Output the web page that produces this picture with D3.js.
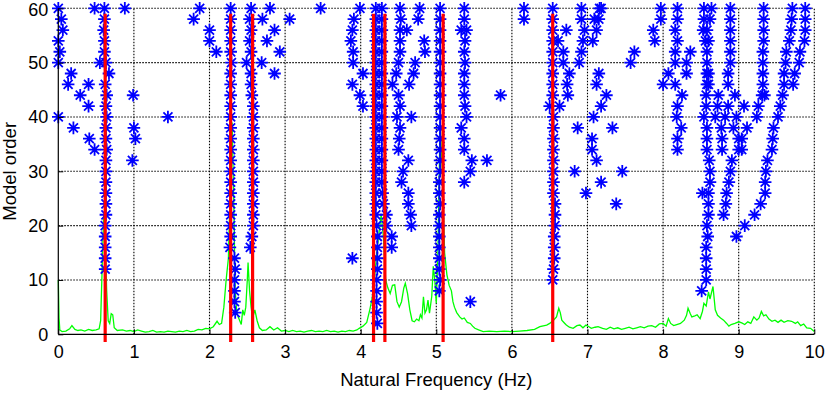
<!DOCTYPE html>
<html>
<head>
<meta charset="utf-8">
<script src="https://cdn.jsdelivr.net/npm/d3@7"></script>
<style>
  html, body { margin: 0; padding: 0; background: #fff; }
  svg text { font-family: "Liberation Sans", Arial, sans-serif; fill: #000; }
</style>
</head>
<body>
<div id="chart"></div>
<script>
// identified modes (Hz), drawn as red lines
const modeFreqs = [0.62, 2.28, 2.57, 4.17, 4.32, 5.09, 6.54];

// spectrum trace [freq, level]
const spectrum = [
  [0, 10], [0.01, 3], [0.02, 0.8], [0.05, 0.5], [0.1, 0.6], [0.15, 1.0], [0.18, 1.6], [0.22, 0.9],
  [0.26, 0.7], [0.3, 0.8], [0.35, 0.6], [0.4, 0.9], [0.45, 0.7], [0.5, 0.8], [0.54, 1.0], [0.56, 2.5],
  [0.58, 12], [0.6, 22], [0.62, 18], [0.64, 8], [0.66, 2.5], [0.68, 2.0], [0.7, 3.8], [0.72, 3.6],
  [0.74, 1.2], [0.78, 0.7], [0.85, 0.8], [0.9, 0.6], [0.95, 0.7], [1.0, 0.5], [1.05, 0.8], [1.1, 0.6],
  [1.15, 0.4], [1.2, 0.5], [1.25, 0.7], [1.3, 0.4], [1.35, 0.5], [1.4, 0.4], [1.45, 0.6], [1.5, 0.5],
  [1.55, 0.4], [1.6, 0.6], [1.65, 0.5], [1.7, 0.7], [1.75, 0.5], [1.8, 0.6], [1.85, 0.9], [1.9, 0.8],
  [1.95, 1.1], [2.0, 1.0], [2.05, 1.4], [2.1, 2.4], [2.13, 1.8], [2.16, 2.0], [2.19, 5], [2.22, 10],
  [2.25, 14], [2.28, 30], [2.3, 39], [2.32, 25], [2.34, 8], [2.36, 4], [2.38, 3.2], [2.4, 2.5],
  [2.42, 1.8], [2.44, 4.5], [2.46, 3.5], [2.48, 5], [2.5, 10], [2.51, 13.2], [2.53, 8], [2.55, 5],
  [2.57, 3], [2.6, 4.5], [2.63, 2.5], [2.66, 1.2], [2.7, 0.7], [2.75, 0.8], [2.8, 1.4], [2.85, 0.8],
  [2.9, 1.2], [2.95, 0.6], [3.0, 0.7], [3.05, 0.5], [3.1, 0.7], [3.15, 0.5], [3.2, 0.6], [3.25, 0.4],
  [3.3, 0.6], [3.35, 0.7], [3.4, 0.5], [3.45, 0.6], [3.5, 0.5], [3.55, 0.7], [3.6, 0.5], [3.65, 0.6],
  [3.7, 0.4], [3.75, 0.6], [3.8, 0.5], [3.85, 0.7], [3.9, 0.6], [3.95, 0.8], [3.98, 1.1], [4.03, 1.5],
  [4.08, 2.2], [4.12, 4.5], [4.15, 6.5], [4.18, 10], [4.22, 16], [4.27, 22], [4.3, 18], [4.33, 10],
  [4.36, 8.5], [4.39, 7.5], [4.42, 9.0], [4.45, 9.1], [4.48, 6], [4.51, 5], [4.54, 6], [4.57, 8.5],
  [4.59, 9.4], [4.62, 7.5], [4.65, 4.5], [4.68, 2.5], [4.71, 2.3], [4.74, 2.8], [4.77, 2.5], [4.79, 3.6],
  [4.81, 3.0], [4.83, 6.9], [4.85, 3.9], [4.87, 4.5], [4.89, 6.3], [4.91, 3.9], [4.94, 7], [4.96, 12.5],
  [4.98, 10], [5.0, 5.7], [5.02, 14], [5.05, 39], [5.08, 30], [5.11, 15], [5.14, 11], [5.17, 9],
  [5.2, 8], [5.22, 6], [5.24, 5], [5.27, 4], [5.31, 3.2], [5.34, 2.8], [5.37, 3], [5.41, 2.2],
  [5.45, 2.0], [5.48, 1.5], [5.51, 1.1], [5.56, 0.8], [5.62, 0.5], [5.7, 0.6], [5.8, 0.5], [5.9, 0.6],
  [6.0, 0.5], [6.1, 0.6], [6.2, 0.7], [6.3, 0.9], [6.37, 1.4], [6.46, 1.7], [6.5, 2.0], [6.55, 2.6],
  [6.59, 3.2], [6.62, 4.8], [6.64, 4.0], [6.66, 2.6], [6.7, 2.0], [6.72, 1.7], [6.76, 1.3], [6.81, 1.1],
  [6.86, 1.6], [6.9, 1.7], [6.94, 1.2], [6.98, 1.7], [7.02, 1.4], [7.05, 1.1], [7.1, 1.3], [7.14, 1.4],
  [7.2, 1.1], [7.25, 0.9], [7.3, 1.3], [7.35, 1.0], [7.4, 1.2], [7.45, 0.9], [7.5, 1.1], [7.55, 1.3],
  [7.6, 1.0], [7.65, 1.2], [7.7, 1.4], [7.75, 1.2], [7.8, 1.5], [7.85, 1.6], [7.9, 1.3], [7.95, 1.9],
  [8.0, 2.0], [8.04, 1.5], [8.07, 2.9], [8.1, 2.0], [8.14, 1.6], [8.18, 1.8], [8.23, 2.0], [8.28, 2.6],
  [8.31, 3.5], [8.33, 4.8], [8.36, 3.8], [8.38, 3.2], [8.42, 3.4], [8.45, 3.6], [8.49, 2.9], [8.52, 4.2],
  [8.54, 5.7], [8.57, 5.2], [8.6, 7.8], [8.62, 6.5], [8.66, 8.8], [8.69, 4.5], [8.72, 3.5], [8.76, 3.0],
  [8.8, 2.6], [8.84, 2.0], [8.87, 1.5], [8.9, 1.8], [8.95, 2.0], [9.0, 2.3], [9.04, 2.1], [9.08, 1.8],
  [9.12, 2.3], [9.16, 2.0], [9.2, 3.2], [9.24, 2.6], [9.27, 3.0], [9.3, 4.2], [9.33, 3.4], [9.36, 3.6],
  [9.4, 2.8], [9.44, 2.4], [9.48, 2.6], [9.52, 2.2], [9.56, 2.6], [9.6, 2.2], [9.65, 2.5], [9.7, 2.4],
  [9.75, 2.0], [9.78, 2.3], [9.82, 1.6], [9.86, 1.9], [9.9, 1.2], [9.95, 1.1], [10.0, 0.5]
];

// poles [freq, model order], split by frequency band
const polesLow = [
  [0, 60], [0.04, 58], [0.06, 56], [0, 54], [0.02, 52], [0, 50], [0.17, 48], [0.13, 46], [0.29, 44],
  [0.40, 46], [0.40, 42], [0, 40], [0.20, 38], [0.41, 36], [0.48, 34], [0.48, 60], [0.88, 60],
  [0.61, 60], [0.61, 58], [0.60, 56], [0.61, 54], [0.61, 52], [0.55, 50], [0.63, 50], [0.67, 48],
  [0.62, 46], [0.64, 44], [0.63, 42], [0.64, 40], [0.63, 38], [0.63, 36], [0.64, 34], [0.63, 32],
  [0.63, 30], [0.63, 28], [0.63, 26], [0.63, 24], [0.63, 22], [0.62, 20], [0.62, 18], [0.62, 16],
  [0.62, 14], [0.62, 12],
  [0.99, 44], [1.0, 38], [1.02, 36], [0.98, 32], [1.45, 40]
];

const poles2to4 = [
  [1.87, 60], [1.79, 58], [2.0, 56], [2.0, 54], [2.09, 52],
  [2.28, 60], [2.28, 58], [2.28, 56], [2.28, 54], [2.28, 52], [2.29, 50], [2.28, 48], [2.28, 46],
  [2.28, 44], [2.28, 42], [2.28, 40], [2.28, 38], [2.28, 36], [2.28, 34], [2.28, 32], [2.28, 30],
  [2.28, 28], [2.28, 26], [2.28, 24], [2.28, 22], [2.28, 20], [2.28, 18], [2.27, 16],
  [2.33, 14], [2.34, 12], [2.33, 10], [2.33, 8], [2.33, 6], [2.34, 4],
  [2.55, 60], [2.53, 58], [2.55, 56], [2.53, 54], [2.55, 52], [2.49, 50], [2.69, 50], [2.55, 48],
  [2.55, 46], [2.56, 44], [2.58, 42], [2.58, 40], [2.58, 38], [2.58, 36], [2.58, 34], [2.58, 32],
  [2.58, 30], [2.58, 28], [2.58, 26], [2.58, 24], [2.58, 22], [2.58, 20], [2.56, 18], [2.54, 16],
  [2.80, 60], [2.70, 58], [2.86, 56], [2.76, 54], [2.93, 52], [2.86, 48], [3.06, 58], [3.47, 60]
];

const poles4to6 = [
  [3.99, 60], [3.91, 58], [3.89, 56], [3.87, 54], [3.90, 52], [3.90, 50], [4.03, 48], [3.89, 46],
  [3.99, 44], [4.03, 42], [3.89, 14],
  [4.20, 60], [4.28, 60], [4.20, 58], [4.28, 58], [4.20, 56], [4.28, 56], [4.20, 54], [4.28, 54],
  [4.20, 52], [4.28, 52], [4.20, 50], [4.28, 50], [4.20, 48], [4.28, 48], [4.20, 46], [4.28, 46],
  [4.20, 44], [4.28, 44], [4.20, 42], [4.28, 42], [4.20, 40], [4.28, 40], [4.20, 38], [4.28, 38],
  [4.20, 36], [4.28, 36], [4.20, 34], [4.28, 34], [4.20, 32], [4.28, 32], [4.20, 30], [4.28, 30],
  [4.20, 28], [4.28, 28], [4.20, 26], [4.29, 26], [4.20, 24], [4.30, 24], [4.20, 22], [4.34, 22],
  [4.21, 20], [4.34, 20], [4.22, 18], [4.41, 18], [4.22, 16], [4.41, 16], [4.22, 14], [4.22, 12],
  [4.21, 10], [4.21, 8], [4.21, 6], [4.21, 4], [4.22, 2],
  [4.52, 60], [4.53, 58], [4.52, 56], [4.61, 56], [4.52, 54], [4.52, 52], [4.50, 50], [4.47, 48],
  [4.42, 46], [4.50, 44], [4.52, 42], [4.48, 40], [4.52, 38], [4.51, 36], [4.50, 34], [4.63, 32],
  [4.56, 30], [4.54, 28], [4.63, 26], [4.63, 24], [4.66, 22], [4.67, 20],
  [4.78, 60], [4.76, 58], [4.84, 54], [4.85, 52], [4.72, 50], [4.70, 48], [4.64, 46], [4.67, 40],
  [5.05, 60], [5.05, 58], [5.05, 56], [5.05, 54], [5.05, 52], [5.05, 50], [5.05, 48], [5.05, 46],
  [5.05, 44], [5.05, 42], [5.05, 40], [5.05, 38], [5.05, 36], [5.05, 34], [5.05, 32], [5.05, 30],
  [5.04, 28], [5.04, 26], [5.05, 24], [5.04, 22], [5.04, 20], [5.04, 18], [5.04, 16], [5.04, 14],
  [5.04, 12], [5.05, 10], [5.04, 8],
  [5.37, 60], [5.37, 58], [5.33, 56], [5.40, 56], [5.38, 54], [5.37, 52], [5.38, 50], [5.37, 48],
  [5.37, 46], [5.37, 44], [5.38, 42], [5.40, 40], [5.33, 38], [5.37, 36], [5.37, 34], [5.47, 32],
  [5.45, 30], [5.37, 28], [5.45, 6],
  [5.67, 32], [5.85, 44], [6.16, 60], [6.16, 58]
];

const poles6to8 = [
  [6.54, 60], [6.54, 58], [6.54, 56], [6.54, 54], [6.54, 52], [6.54, 50], [6.54, 48], [6.54, 46],
  [6.54, 44], [6.50, 42], [6.55, 40], [6.55, 38], [6.55, 36], [6.55, 34], [6.55, 32], [6.55, 30],
  [6.55, 28], [6.55, 26], [6.57, 24], [6.57, 22], [6.57, 20], [6.56, 18], [6.56, 16], [6.56, 14],
  [6.55, 12], [6.54, 10],
  [6.72, 56], [6.61, 54], [6.68, 52], [6.68, 50], [6.76, 48], [6.73, 46], [6.74, 44], [6.63, 42],
  [6.87, 38], [6.83, 30], [6.98, 26],
  [6.92, 60], [6.92, 58], [6.96, 56], [6.94, 54], [6.92, 52], [6.89, 50],
  [7.16, 60], [7.18, 60], [7.09, 58], [7.15, 58], [7.12, 56], [7.07, 54],
  [7.15, 48], [7.12, 46], [7.25, 44], [7.18, 42], [7.08, 40], [7.33, 38], [7.06, 36], [7.06, 34],
  [7.12, 32], [7.46, 30], [7.18, 28], [7.38, 24], [7.62, 52], [7.57, 50]
];

const polesHigh = [
  [7.97, 60], [7.97, 58], [7.87, 56], [7.89, 54],
  [8.19, 60], [8.19, 58], [8.16, 56], [8.19, 54], [8.16, 52], [8.36, 52], [8.16, 50], [8.31, 50],
  [8.07, 48], [8.31, 48], [8.0, 46], [8.16, 46], [8.25, 44], [8.19, 42], [8.18, 40], [8.24, 38],
  [8.19, 36], [8.19, 34],
  [8.54, 60], [8.64, 60], [8.54, 58], [8.62, 58], [8.53, 56], [8.58, 56], [8.56, 54], [8.60, 54],
  [8.58, 52], [8.58, 50], [8.58, 48], [8.60, 48], [8.58, 46], [8.60, 46], [8.57, 44], [8.73, 44],
  [8.57, 42], [8.72, 42], [8.86, 42], [8.54, 40], [8.69, 40], [8.82, 40], [8.97, 40],
  [8.58, 38], [8.77, 38], [8.93, 38], [8.58, 36], [8.78, 36], [9.0, 36], [9.04, 36],
  [8.58, 34], [8.78, 34], [9.0, 34], [9.04, 34], [8.61, 32], [8.91, 32], [8.62, 30], [8.89, 30],
  [8.62, 28], [8.87, 28], [8.52, 26], [8.60, 26], [8.84, 26], [8.60, 24], [8.83, 24],
  [8.60, 22], [8.80, 22], [8.58, 20], [8.59, 18], [8.57, 16], [8.57, 14], [8.57, 12], [8.57, 10],
  [8.51, 8],
  [8.89, 60], [8.89, 58], [8.89, 56], [8.89, 54], [8.89, 52], [8.89, 50], [8.86, 48], [8.86, 46],
  [8.95, 44], [9.07, 42], [9.11, 38], [9.08, 20], [8.97, 18],
  [9.33, 60], [9.33, 58], [9.33, 56], [9.33, 54], [9.32, 52], [9.32, 50], [9.32, 48], [9.32, 46],
  [9.31, 44], [9.34, 44], [9.26, 42], [9.24, 40],
  [9.58, 44], [9.55, 42], [9.52, 40], [9.46, 38], [9.45, 36], [9.44, 34], [9.38, 32], [9.36, 30],
  [9.35, 28], [9.35, 26], [9.29, 24], [9.21, 22],
  [9.71, 60], [9.70, 58], [9.69, 56], [9.67, 54], [9.63, 52], [9.62, 50], [9.60, 48], [9.60, 46],
  [9.88, 60], [9.88, 58], [9.88, 56], [9.87, 54], [9.81, 52], [9.80, 50], [9.74, 48], [9.72, 46]
];

const xTicks = [0, 1, 2, 3, 4, 5, 6, 7, 8, 9, 10];
const yTicks = [0, 10, 20, 30, 40, 50, 60];

const W = 825, H = 393;
const margin = { left: 58.3, right: 10.7, top: 8.3, bottom: 58.7 };

const svg = d3.select('#chart')
  .append('svg')
  .attr('width', W)
  .attr('height', H);

const x = d3.scaleLinear().domain([0, 10]).range([margin.left, W - margin.right]);
const y = d3.scaleLinear().domain([0, 60]).range([H - margin.bottom, margin.top]);

// dotted grid
const grid = svg.append('g')
  .attr('stroke', '#000')
  .attr('stroke-width', 1.1)
  .attr('stroke-dasharray', '1.5,1.5');

grid.selectAll('.gx')
  .data(xTicks.slice(1))
  .join('line')
  .attr('x1', d => x(d)).attr('x2', d => x(d))
  .attr('y1', y(0)).attr('y2', y(60));

grid.selectAll('.gy')
  .data(yTicks.slice(1))
  .join('line')
  .attr('x1', x(0)).attr('x2', x(10))
  .attr('y1', d => y(d)).attr('y2', d => y(d));

// spectrum
const line = d3.line().x(d => x(d[0])).y(d => y(d[1]));
svg.append('path')
  .datum(spectrum)
  .attr('d', line)
  .attr('fill', 'none')
  .attr('stroke', '#00ff00')
  .attr('stroke-width', 1.3);

// poles as asterisks
const star = 'M-6.3,0H6.3M0,-6.3V6.3M-4.5,-4.5L4.5,4.5M-4.5,4.5L4.5,-4.5';
const poles = [].concat(polesLow, poles2to4, poles4to6, poles6to8, polesHigh);
svg.append('g')
  .selectAll('path')
  .data(poles)
  .join('path')
  .attr('transform', d => `translate(${ x(d[0]) },${ y(d[1]) })`)
  .attr('d', star)
  .attr('fill', 'none')
  .attr('stroke', '#0000ff')
  .attr('stroke-width', 1.8);

// selected modes
svg.append('g')
  .selectAll('line')
  .data(modeFreqs)
  .join('line')
  .attr('x1', d => x(d)).attr('x2', d => x(d))
  .attr('y1', y(59)).attr('y2', y(-1.4))
  .attr('stroke', '#ff0000')
  .attr('stroke-width', 3.2);

// axes
const xAxis = d3.axisBottom(x).tickValues(xTicks).tickSize(-5).tickPadding(11).tickFormat(d3.format('d'));
const yAxis = d3.axisLeft(y).tickValues(yTicks).tickSize(-5).tickPadding(10).tickFormat(d3.format('d'));

const gx = svg.append('g').attr('transform', `translate(0,${ y(0) })`).call(xAxis);
const gy = svg.append('g').attr('transform', `translate(${ x(0) },0)`).call(yAxis);

[gx, gy].forEach(g => {
  g.select('.domain').attr('stroke', '#000').attr('stroke-width', 1.2);
  g.selectAll('.tick line').attr('stroke', '#000');
  g.selectAll('.tick text')
    .attr('font-size', 18)
    .attr('font-family', '"Liberation Sans", Arial, sans-serif')
    .attr('fill', '#000');
});
gx.select('.domain').attr('d', `M${ x(0) },0H${ x(10) }`);
gy.select('.domain').attr('d', `M0,${ y(0) }V${ y(60) }`);
// keep the top label fully inside the frame
gy.selectAll('.tick text').filter(d => d === 60).attr('dy', '0.42em');

svg.append('text')
  .attr('x', (x(0) + x(10)) / 2)
  .attr('y', 386)
  .attr('text-anchor', 'middle')
  .attr('font-size', 18.5)
  .text('Natural Frequency (Hz)');

svg.append('text')
  .attr('transform', `translate(16,${ (y(0) + y(60)) / 2 }) rotate(-90)`)
  .attr('text-anchor', 'middle')
  .attr('font-size', 18.5)
  .text('Model order');
</script>
</body>
</html>
